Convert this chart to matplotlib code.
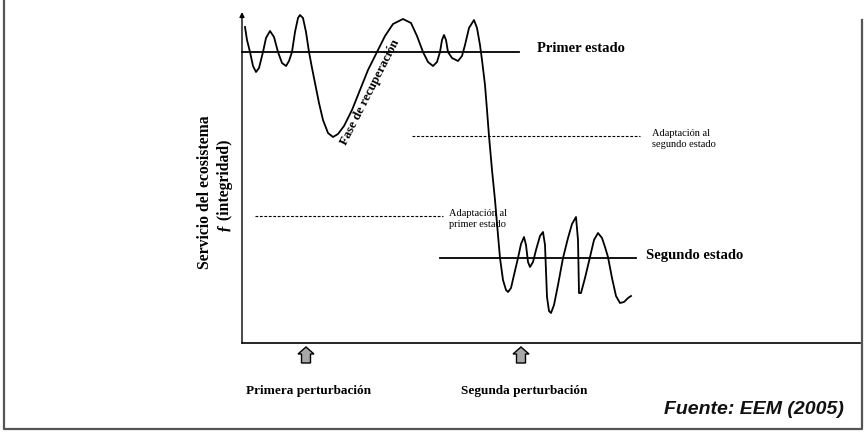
import matplotlib
matplotlib.use('Agg')
import matplotlib.pyplot as plt

# conceptual curve (pixel units, y grows downwards)
curve_x = [245, 247, 250, 253, 256, 259, 263, 266, 270, 274, 278, 282, 286, 289, 292,
           295, 298, 300, 303, 306, 309, 312, 315, 319, 323, 328, 333, 338, 344, 352,
           360, 368, 377, 385, 393, 403, 411, 417, 423, 428, 433, 437, 440, 442, 444,
           446, 448, 452, 458, 462, 465, 469, 474, 477, 480, 482, 485, 487, 489, 492,
           495, 498, 500, 503, 506, 508, 511, 514, 518, 521, 524, 526, 528, 530, 533,
           536, 540, 543, 545, 547, 549, 551, 554, 558, 563, 568, 572, 576, 578, 579,
           581, 585, 590, 594, 598, 602, 605, 608, 612, 616, 620, 624, 628, 631]
curve_y = [27, 40, 52, 66, 72, 68, 52, 38, 31, 37, 52, 63, 66, 61, 52,
           32, 18, 15, 18, 32, 52, 68, 83, 103, 120, 133, 137, 134, 126, 110,
           90, 70, 52, 36, 24, 19, 23, 36, 52, 62, 66, 62, 52, 40, 35,
           40, 52, 58, 61, 56, 45, 28, 20, 28, 45, 60, 85, 110, 136, 170,
           200, 235, 258, 280, 290, 292, 288, 275, 258, 244, 237, 245, 262, 267, 262,
           250, 236, 232, 245, 297, 311, 313, 305, 285, 258, 238, 224, 217, 240, 293,
           293, 278, 257, 240, 233, 238, 247, 257, 278, 296, 303, 302, 298, 296]

# reference levels: (y, x start, x end)
primer_estado = (52, 242, 519)
segundo_estado = (258, 440, 636)
adapt_segundo = (136, 412, 640)
adapt_primer = (216, 255, 443)

perturb_x = [306, 521]
perturb_labels = ['Primera perturbación', 'Segunda perturbación']

fig = plt.figure(figsize=(8.64, 4.32), dpi=100)
ax = fig.add_axes([0, 0, 1, 1])
ax.set_xlim(0, 864)
ax.set_ylim(432, 0)
ax.axis('off')

serif = 'Liberation Serif'

# page frame
ax.plot([4, 4, 862, 862], [0, 429, 429, 20], color='#555555', lw=1.6)

# axes
ax.plot([242, 860], [343, 343], color='black', lw=1.2)
ax.annotate('', xy=(242, 12), xytext=(242, 343),
            arrowprops=dict(arrowstyle='-|>', color='black', lw=1.0,
                            mutation_scale=7, shrinkA=0, shrinkB=0))

# state lines
for lvl in (primer_estado, segundo_estado):
    ax.plot([lvl[1], lvl[2]], [lvl[0], lvl[0]], color='black', lw=1.3)
for lvl in (adapt_segundo, adapt_primer):
    ax.plot([lvl[1], lvl[2]], [lvl[0], lvl[0]], color='black', lw=0.8,
            linestyle=(0, (2.5, 1.5)))

# the curve
ax.plot(curve_x, curve_y, color='black', lw=1.3, solid_joinstyle='round')

# texts
ax.text(537, 49, 'Primer estado', family=serif, weight='bold', fontsize=10.5,
        va='center', ha='left')
ax.text(646, 256, 'Segundo estado', family=serif, weight='bold', fontsize=10.5,
        va='center', ha='left')
ax.text(652, 139, 'Adaptación al\nsegundo estado', family=serif, fontsize=7.5,
        va='center', ha='left', linespacing=1.2)
ax.text(449, 219, 'Adaptación al\nprimer estado', family=serif, fontsize=7.5,
        va='center', ha='left', linespacing=1.2)
ax.text(370, 92, 'Fase de recuperación', family=serif, weight='bold', fontsize=9.3,
        rotation=63, ha='center', va='center', rotation_mode='anchor')

ax.text(205, 192, 'Servicio del ecosistema', family=serif, weight='bold',
        fontsize=11.3, rotation=90, ha='center', va='center')
ax.text(225, 186, 'ƒ (integridad)', family=serif, weight='bold',
        fontsize=11.3, rotation=90, ha='center', va='center')

# perturbation arrows
for px, lab in zip(perturb_x, perturb_labels):
    ax.arrow(px, 363, 0, -9, width=9, head_width=16, head_length=7,
             length_includes_head=False, fc='#a8a8a8', ec='black', lw=1.0)
    ax.text(px + 3, 391, lab, family=serif, weight='bold', fontsize=9.5,
            ha='center', va='center')

ax.text(844, 410, 'Fuente: EEM (2005)', family='Liberation Sans', weight='bold',
        style='italic', fontsize=14, ha='right', va='center', color='#111111')

fig.savefig('out.png', dpi=100)
